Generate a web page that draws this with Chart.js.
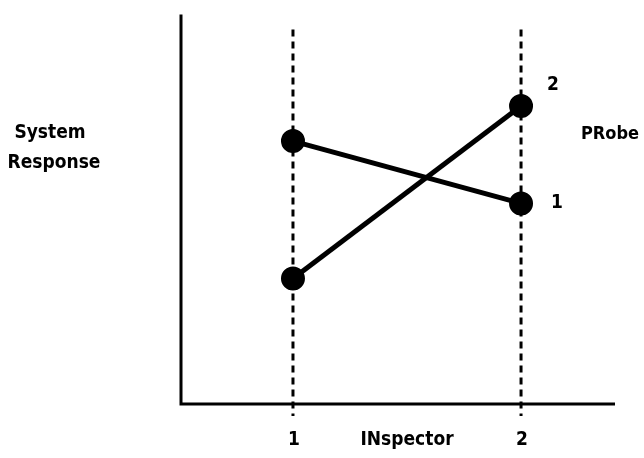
<!DOCTYPE html>
<html lang="en">
<head>
  <meta charset="UTF-8">
  <title>System Response by Inspector and Probe</title>
  <script src="https://cdn.jsdelivr.net/npm/chart.js"></script>
  <style>
    body { margin: 0; background: #fff; }
    .chart-box { width: 644px; height: 458px; }
  </style>
</head>
<body>
<div class="chart-box"><canvas id="chart"></canvas></div>
<script>
  // inspector levels on the x axis
  const inspectors = [1, 2];
  const inspectorLabels = ['1', '2'];
  // system response for each probe (arbitrary units)
  const probe1 = [6.75, 5.15];
  const probe2 = [3.22, 7.65];
  const probeLabels = ['1', '2'];

  const FONT = 'bold 19px "DejaVu Sans Condensed", "Liberation Sans Narrow", sans-serif';

  // axes, dashed guides and all text
  const decor = {
    id: 'decor',
    beforeDatasetsDraw(chart) {
      const { ctx, chartArea: a, scales: { x } } = chart;
      ctx.save();
      ctx.strokeStyle = '#000';
      ctx.lineWidth = 3;
      ctx.beginPath();
      ctx.moveTo(a.left, a.top);
      ctx.lineTo(a.left, a.bottom);
      ctx.lineTo(a.right, a.bottom);
      ctx.stroke();

      ctx.setLineDash([7, 5]);
      ctx.lineWidth = 3;
      inspectors.forEach(v => {
        const px = x.getPixelForValue(v);
        ctx.beginPath();
        ctx.moveTo(px, a.top + 15);
        ctx.lineTo(px, a.bottom + 12);
        ctx.stroke();
      });
      ctx.restore();
    },
    afterDatasetsDraw(chart) {
      const { ctx, chartArea: a, scales: { x, y } } = chart;
      ctx.save();
      ctx.fillStyle = '#000';
      ctx.font = FONT;
      ctx.textAlign = 'center';
      ctx.textBaseline = 'middle';

      inspectors.forEach((v, i) => {
        ctx.fillText(inspectorLabels[i], x.getPixelForValue(v) + 1, a.bottom + 36);
      });
      ctx.fillText('INspector', (x.getPixelForValue(1) + x.getPixelForValue(2)) / 2, a.bottom + 36);

      ctx.fillText('System', 50, 133);
      ctx.fillText('Response', 54, 163);
      ctx.font = 'bold 18px "DejaVu Sans Condensed", sans-serif';
      ctx.fillText('PRobe', 610, 134);
      ctx.font = FONT;

      // probe labels beside the right-hand points
      const xr = x.getPixelForValue(inspectors[1]);
      ctx.fillText(probeLabels[1], xr + 32, y.getPixelForValue(probe2[1]) - 21);
      ctx.fillText(probeLabels[0], xr + 36, y.getPixelForValue(probe1[1]) + 0);
      ctx.restore();
    }
  };

  new Chart(document.getElementById('chart'), {
    type: 'line',
    data: {
      datasets: [
        {
          label: 'Probe 1',
          data: inspectors.map((v, i) => ({ x: v, y: probe1[i] })),
          borderColor: '#000',
          backgroundColor: '#000',
          borderWidth: 5,
          pointRadius: 9.5,
          tension: 0
        },
        {
          label: 'Probe 2',
          data: inspectors.map((v, i) => ({ x: v, y: probe2[i] })),
          borderColor: '#000',
          backgroundColor: '#000',
          borderWidth: 5,
          pointRadius: 9.5,
          tension: 0
        }
      ]
    },
    options: {
      responsive: true,
      maintainAspectRatio: false,
      animation: false,
      layout: { padding: { left: 181, right: 29, top: 13, bottom: 54 } },
      plugins: {
        legend: { display: false },
        tooltip: { enabled: false }
      },
      scales: {
        x: { type: 'linear', display: false, min: 0.509, max: 2.412 },
        y: { display: false, min: 0, max: 10 }
      }
    },
    plugins: [decor]
  });
</script>
</body>
</html>
